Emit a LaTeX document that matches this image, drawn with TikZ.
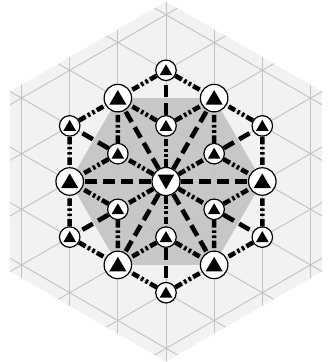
\documentclass[tikz,border=0pt]{standalone}
\begin{document}
\begin{tikzpicture}[x=1pt, y=1pt,
   gridline/.style={draw=black!24, line width=0.9pt},
   longdash/.style={line width=4.6pt, dash pattern=on 12pt off 6pt},
   dashdots/.style={line width=4.6pt, dash pattern=on 7.5pt off 2.6pt on 2.6pt off 2.6pt on 2.6pt off 2.6pt},
   bignode/.style={circle, draw, line width=1.2pt, fill=white, minimum size=27.5pt, inner sep=0pt,
      path picture={\fill[black] (path picture bounding box.center) ++(0pt,8pt) -- ++(-8.6pt,-14.6pt) -- ++(17.2pt,0pt) -- cycle;}},
   smallnode/.style={circle, draw, line width=1.2pt, fill=white, minimum size=20.5pt, inner sep=0pt,
      path picture={\fill[black] (path picture bounding box.center) ++(0pt,6pt) -- ++(-6.3pt,-10.9pt) -- ++(12.6pt,0pt) -- cycle;}},
   hubnode/.style={circle, draw, line width=1.2pt, fill=white, minimum size=28pt, inner sep=0pt,
      path picture={\fill[black] (path picture bounding box.center) ++(0pt,-7.8pt) -- ++(-8.2pt,14.6pt) -- ++(16.4pt,0pt) -- cycle;}}]
   \useasboundingbox (-166,-180.5) rectangle (162,181.5);
   % background hexagons
   \fill[black!5] (90:180) -- (150:180) -- (210:180) -- (270:180) -- (330:180) -- (30:180) -- cycle;
   \fill[black!22] (0:96.3) -- (60:96.3) -- (120:96.3) -- (180:96.3) -- (240:96.3) -- (300:96.3) -- cycle;
   % triangular grid
   \begin{scope}
      \clip (90:180) -- (150:180) -- (210:180) -- (270:180) -- (330:180) -- (30:180) -- cycle;
      \foreach \j in {-3,...,3}{
         \draw[gridline] (\j*48.15,-200) -- (\j*48.15,200);
         \draw[gridline] (0,\j*55.6) ++(210:260) -- ++(30:520);
         \draw[gridline] (0,\j*55.6) ++(330:260) -- ++(150:520);
      }
   \end{scope}
   % sites
   \node[hubnode] (C) at (0,0) {};
   \foreach \k in {0,...,5}{
      \node[bignode] (B\k) at (\k*60:96.3) {};
      \node[smallnode] (I\k) at (30+\k*60:55.6) {};
      \node[smallnode] (O\k) at (30+\k*60:111.2) {};
   }
   % bonds
   \foreach \k in {0,...,5}{
      \pgfmathtruncatemacro{\nxt}{mod(\k+1,6)}
      \draw[longdash] (C) -- (B\k);
      \draw[longdash] (I\k) -- (O\k);
      \draw[dashdots] (C) -- (I\k);
      \draw[dashdots] (I\k) -- (B\k);
      \draw[dashdots] (I\k) -- (B\nxt);
      \draw[dashdots] (O\k) -- (B\k);
      \draw[dashdots] (O\k) -- (B\nxt);
   }
\end{tikzpicture}
\end{document}
